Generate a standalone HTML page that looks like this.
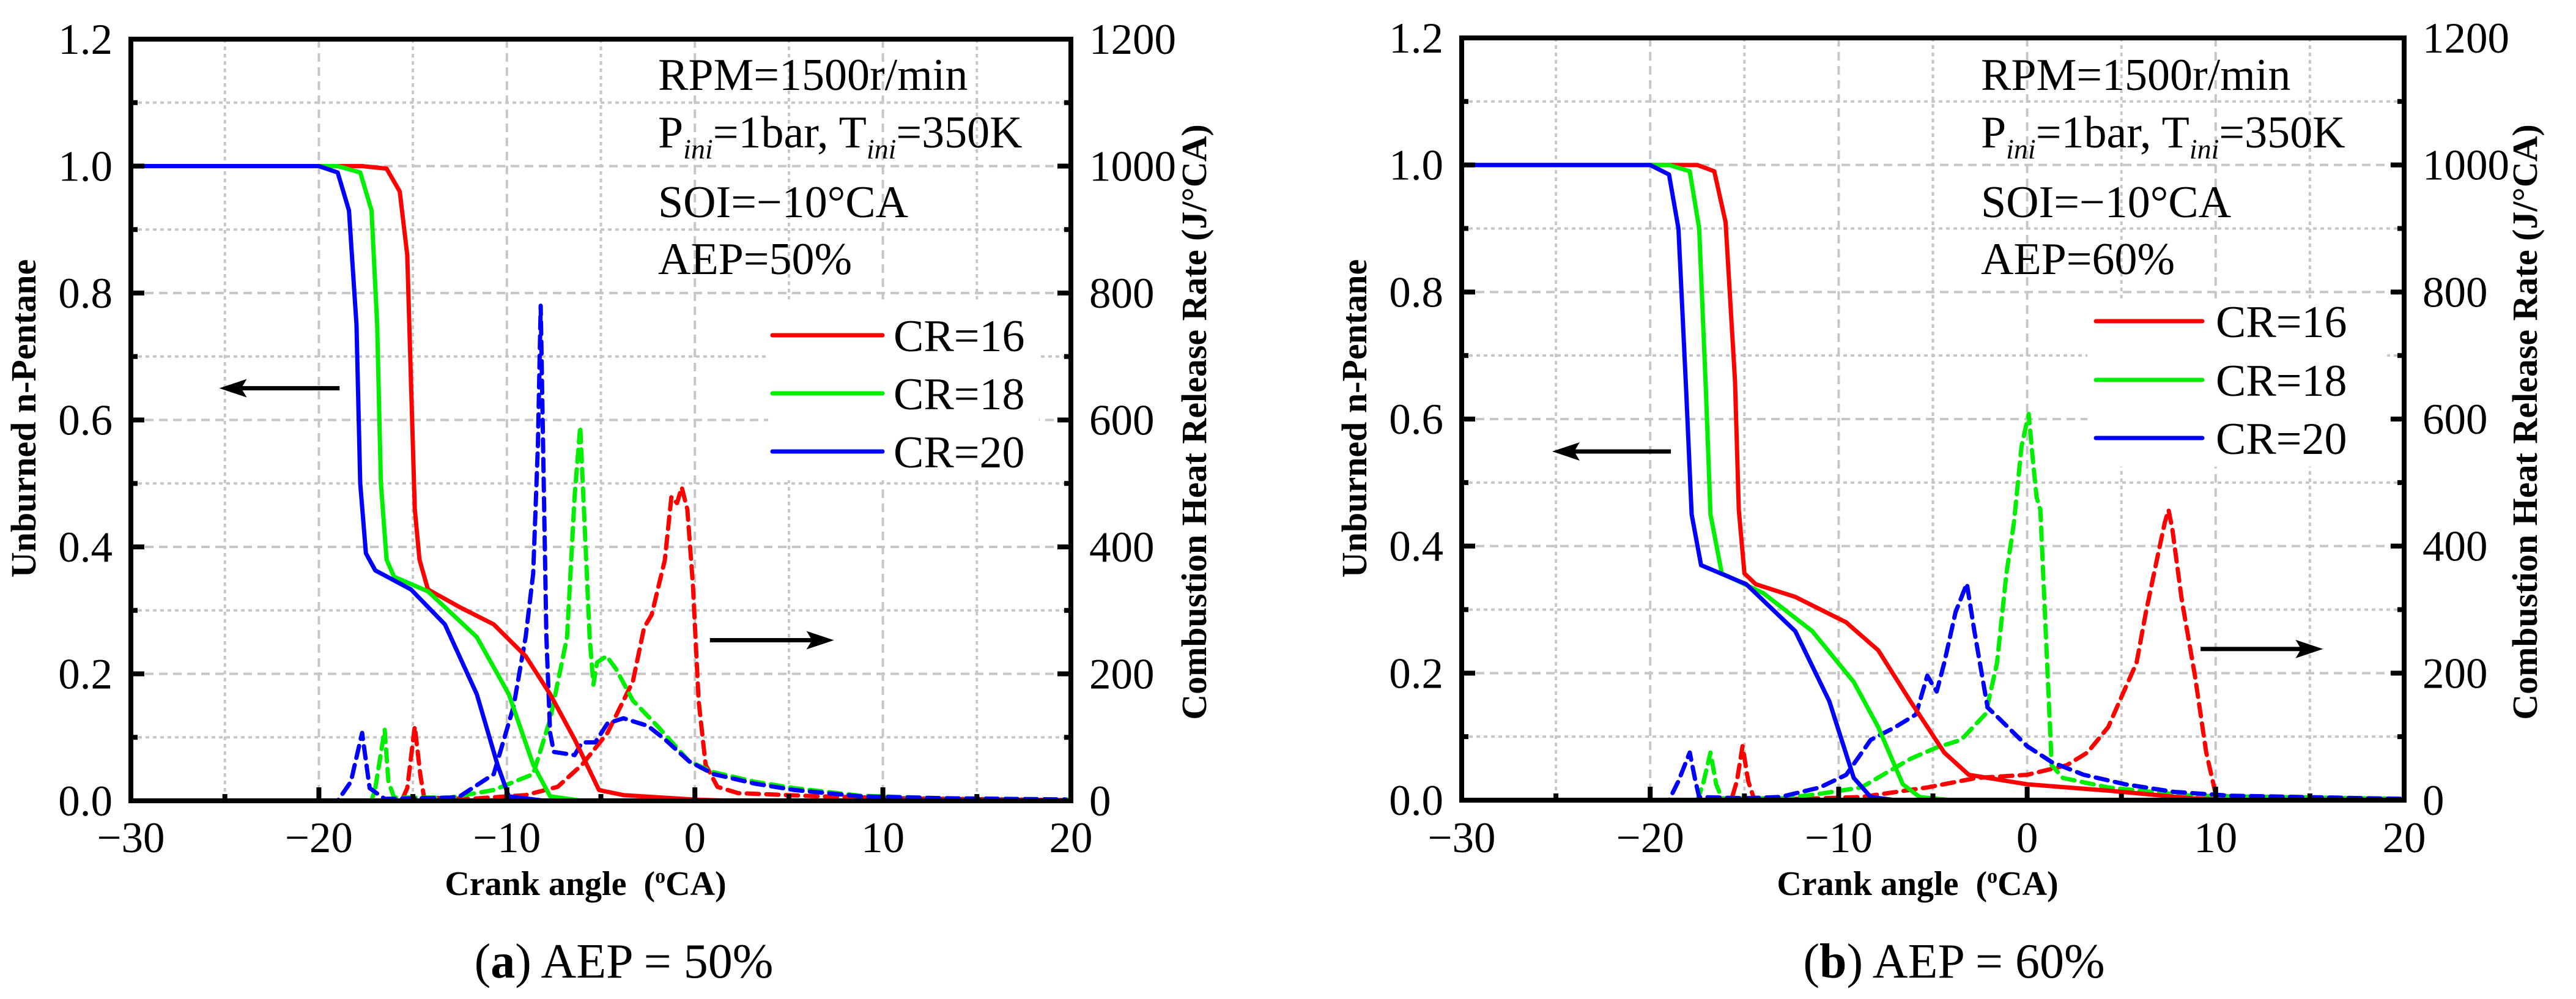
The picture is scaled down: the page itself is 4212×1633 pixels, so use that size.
<!DOCTYPE html>
<html><head><meta charset="utf-8">
<style>
html,body{margin:0;padding:0;background:#fff;}
svg{display:block;font-family:"Liberation Serif","DejaVu Serif",serif;}
svg text{font-family:"Liberation Serif","DejaVu Serif",serif;fill:#000;}
.b{font-weight:bold;}
</style></head>
<body>
<svg id="fig" xmlns="http://www.w3.org/2000/svg" width="4212" height="1633" viewBox="0 0 4212 1633" font-family="Liberation Serif, DejaVu Serif, serif"></svg>
<script>
// ---------- shared axis data ----------
const xTicks = [-30, -20, -10, 0, 10, 20];
const xMinor = [-25, -15, -5, 5, 15];
const yLeftTicks = [0.0, 0.2, 0.4, 0.6, 0.8, 1.0, 1.2];
const yMinor = [0.1, 0.3, 0.5, 0.7, 0.9, 1.1];
const yRightTicks = [0, 200, 400, 600, 800, 1000, 1200];
const seriesNames = ["CR=16", "CR=18", "CR=20"];
const seriesColors = ["#ff0000", "#00ee00", "#0000ff"];

// ---------- panel (a) AEP=50% ----------
const aUnb16 = [[-30,1],[-17.7,1],[-16.4,0.996],[-15.7,0.96],[-15.3,0.86],[-15.1,0.66],[-14.9,0.46],[-14.65,0.38],[-14.2,0.333],[-12.5,0.305],[-10.7,0.278],[-9.0,0.228],[-7.7,0.168],[-6.4,0.097],[-5.1,0.017],[-3.8,0.009],[-0.1,0.002],[2,0],[20,0]];
const aUnb18 = [[-30,1],[-19,1],[-17.8,0.99],[-17.2,0.93],[-16.9,0.75],[-16.7,0.5],[-16.4,0.38],[-16.0,0.353],[-14.2,0.33],[-11.6,0.258],[-9.9,0.168],[-8.6,0.057],[-7.7,0.007],[-6,0],[20,0]];
const aUnb20 = [[-30,1],[-20,1],[-19,0.99],[-18.4,0.93],[-18.0,0.75],[-17.8,0.5],[-17.5,0.39],[-17.0,0.363],[-15.1,0.333],[-13.3,0.278],[-11.6,0.168],[-10.5,0.057],[-9.9,0.007],[-8,0],[20,0]];
const aHrr16 = [[-30,0],[-15.6,0],[-15.3,20],[-14.9,117],[-14.6,40],[-14.4,5],[-12,3],[-9.0,9],[-7.3,22],[-6.0,57],[-4.65,107],[-3.3,188],[-2.7,273],[-2.3,293],[-1.6,379],[-1.25,479],[-0.95,469],[-0.7,494],[-0.4,459],[-0.1,338],[0.2,158],[0.57,57],[1.2,22],[2.3,12],[6.6,7],[11,4],[20,1]];
const aHrr18 = [[-30,0],[-17.2,0],[-17.0,20],[-16.5,112],[-16.3,30],[-16.0,5],[-13,5],[-10.7,17],[-8.6,42],[-7.7,128],[-6.8,258],[-6.4,479],[-6.1,590],[-5.9,459],[-5.6,258],[-5.4,183],[-5.2,218],[-4.7,228],[-4.2,208],[-3.3,158],[-2.0,118],[-0.3,62],[1.0,45],[3.2,30],[5.3,20],[8.8,8],[13,4],[20,2]];
const aHrr20 = [[-30,0],[-19,0],[-18.3,30],[-17.7,107],[-17.3,20],[-16.5,3],[-13,5],[-12.5,7],[-10.7,42],[-9.65,148],[-9.0,258],[-8.6,358],[-8.35,560],[-8.2,780],[-8.05,520],[-7.9,258],[-7.7,107],[-7.5,77],[-6.4,72],[-6.0,92],[-5.3,92],[-4.65,122],[-3.8,130],[-2.5,118],[-1.6,97],[-0.3,62],[1.0,42],[3.2,27],[5.3,17],[8.8,7],[13.2,4],[19.7,2]];

// ---------- panel (b) AEP=60% ----------
const bUnb16 = [[-30,1],[-17.5,1],[-16.6,0.99],[-16.0,0.91],[-15.5,0.66],[-15.3,0.457],[-15.0,0.357],[-14.4,0.34],[-12.3,0.32],[-9.6,0.28],[-7.9,0.236],[-6.2,0.156],[-4.4,0.075],[-3.1,0.04],[0,0.025],[4.3,0.015],[8.7,0.003],[11,0],[20,0]];
const bUnb18 = [[-30,1],[-19,1],[-17.9,0.99],[-17.4,0.9],[-17.05,0.65],[-16.8,0.45],[-16.2,0.357],[-14.0,0.326],[-11.4,0.266],[-9.2,0.186],[-7.9,0.115],[-6.6,0.025],[-5.7,0.005],[-4,0],[20,0]];
const bUnb20 = [[-30,1],[-20,1],[-19.0,0.985],[-18.5,0.9],[-18.1,0.65],[-17.8,0.45],[-17.3,0.37],[-14.9,0.34],[-12.3,0.266],[-10.5,0.156],[-9.2,0.035],[-8.3,0.005],[-7,0],[20,0]];
const bHrr16 = [[-30,0],[-15.7,0],[-15.4,30],[-15.1,85],[-14.8,30],[-14.5,3],[-12,2],[-8.8,5],[-5.3,20],[-2.7,35],[0,40],[2.1,55],[3.2,75],[4.3,115],[5.2,176],[5.8,216],[6.3,296],[6.8,367],[7.3,437],[7.5,457],[7.7,427],[8.2,316],[8.9,196],[9.5,75],[10.0,10],[10.8,5],[20,1]];
const bHrr18 = [[-30,0],[-17.5,0],[-17.2,25],[-16.8,75],[-16.5,25],[-16.2,3],[-13,3],[-11,10],[-8.8,20],[-6.2,65],[-4.8,83],[-3.5,95],[-2.2,136],[-1.6,216],[-1.1,357],[-0.7,437],[-0.3,557],[0.08,608],[0.3,537],[0.5,477],[0.7,457],[1.0,256],[1.3,55],[1.9,35],[4.3,20],[8.7,7],[20,2]];
const bHrr20 = [[-30,0],[-19.0,0],[-18.5,30],[-17.9,75],[-17.6,30],[-17.4,5],[-15,3],[-13.1,5],[-11,20],[-9.6,40],[-8.3,95],[-7.0,115],[-5.9,135],[-5.3,196],[-4.8,171],[-4.4,216],[-3.8,296],[-3.2,341],[-2.8,266],[-2.1,146],[-1.4,126],[0,85],[1.3,60],[3.0,40],[5.2,25],[7.8,13],[10.8,7],[20,2]];

const NS = "http://www.w3.org/2000/svg";
const FONT = '"Liberation Serif", "DejaVu Serif", serif';
const svg = document.getElementById('fig');
function mk(tag, attrs, parent, txt) {
  const e = document.createElementNS(NS, tag);
  for (const k in attrs) e.setAttribute(k, attrs[k]);
  if (tag === 'text') e.setAttribute('font-family', FONT);
  if (txt !== undefined) e.textContent = txt;
  (parent || svg).appendChild(e);
  return e;
}

function drawPanel(cfg) {
  const g = mk('g', {});
  
  
  const X = v => cfg.x0 + (v + 30) / 50 * (cfg.x1 - cfg.x0);
  const Y = v => cfg.y0 - v / 1.2 * (cfg.y0 - cfg.yt);
  const YR = v => Y(v / 1000);
  const grid = mk('g', {stroke: '#c6c6c6', 'stroke-width': 4, fill: 'none'}, g);
  
  
  xTicks.slice(1, -1).forEach(v => mk('line', {x1: X(v), x2: X(v), y1: cfg.yt, y2: cfg.y0, 'stroke-dasharray': '14 9'}, grid));
  xMinor.forEach(v => mk('line', {x1: X(v), x2: X(v), y1: cfg.yt, y2: cfg.y0, 'stroke-dasharray': '6 6'}, grid));
  yLeftTicks.slice(1, -1).forEach(v => mk('line', {x1: cfg.x0, x2: cfg.x1, y1: Y(v), y2: Y(v), 'stroke-dasharray': '14 9'}, grid));
  yMinor.forEach(v => mk('line', {x1: cfg.x0, x2: cfg.x1, y1: Y(v), y2: Y(v), 'stroke-dasharray': '6 6'}, grid));

  const lb = mk('rect', {x: X(cfg.legBox[0]), y: Y(cfg.legBox[3]), width: X(cfg.legBox[1]) - X(cfg.legBox[0]), height: Y(cfg.legBox[2]) - Y(cfg.legBox[3]), fill: '#fff'}, g);
  
  

  const pts = (arr, f) => arr.map(p => X(p[0]).toFixed(1) + ',' + f(p[1]).toFixed(1)).join(' ');
  cfg.hrr.forEach((arr, i) => {
    const l = mk('polyline', {points: pts(arr, YR), fill: 'none', stroke: seriesColors[i], 'stroke-width': 7, 'stroke-dasharray': '20 12', 'stroke-linejoin': 'round', 'stroke-linecap': 'round'}, g);
    
    
  });
  cfg.unb.forEach((arr, i) => {
    const l = mk('polyline', {points: pts(arr, Y), fill: 'none', stroke: seriesColors[i], 'stroke-width': 7, 'stroke-linejoin': 'round', 'stroke-linecap': 'round'}, g);
    
    
  });

  const fr = mk('rect', {x: cfg.x0, y: cfg.yt, width: cfg.x1 - cfg.x0, height: cfg.y0 - cfg.yt, fill: 'none', stroke: '#000', 'stroke-width': 8}, g);
  
  
  const tk = mk('g', {stroke: '#000', 'stroke-width': 8}, g);
  
  
  yLeftTicks.forEach(v => { mk('line', {x1: cfg.x0, x2: cfg.x0 + 22, y1: Y(v), y2: Y(v)}, tk); mk('line', {x1: cfg.x1, x2: cfg.x1 - 22, y1: Y(v), y2: Y(v)}, tk); });
  yMinor.forEach(v => { mk('line', {x1: cfg.x0, x2: cfg.x0 + 11, y1: Y(v), y2: Y(v)}, tk); mk('line', {x1: cfg.x1, x2: cfg.x1 - 11, y1: Y(v), y2: Y(v)}, tk); });
  xTicks.forEach(v => mk('line', {x1: X(v), x2: X(v), y1: cfg.y0, y2: cfg.y0 - 22}, tk));
  xMinor.forEach(v => mk('line', {x1: X(v), x2: X(v), y1: cfg.y0, y2: cfg.y0 - 11}, tk));

  xTicks.forEach(v => {
    const t = mk('text', {x: X(v), y: 1393, 'font-size': 71, 'text-anchor': 'middle'}, g, (v < 0 ? '\u2212' + Math.abs(v) : String(v)));
    
    
  });
  yLeftTicks.forEach(v => {
    const t = mk('text', {x: cfg.x0 - 30, y: Y(v) + 24, 'font-size': 71, 'text-anchor': 'end'}, g, v.toFixed(1));
    
    
  });
  yRightTicks.forEach(v => {
    const t = mk('text', {x: cfg.x1 + 30, y: YR(v) + 24, 'font-size': 71}, g, String(v));
    
    
  });

  const xt = mk('text', {x: (cfg.x0 + cfg.x1) / 2 - 25, y: 1463, 'font-size': 56, 'text-anchor': 'middle', 'font-weight': 'bold'}, g);
  
  
  mk('tspan', {}, xt, 'Crank angle\u00a0 (');
  mk('tspan', {'font-size': 34, dy: -20}, xt, 'o');
  mk('tspan', {dy: 20}, xt, 'CA)');
  const yl = mk('text', {x: 0, y: 0, 'font-size': 58, 'text-anchor': 'middle', 'font-weight': 'bold', transform: `translate(${cfg.ylx},684) rotate(-90)`}, g, 'Unburned n-Pentane');
  
  
  const yr = mk('text', {x: 0, y: 0, 'font-size': 58, 'text-anchor': 'middle', 'font-weight': 'bold', transform: `translate(${cfg.yrx},690) rotate(-90)`}, g, 'Combustion Heat Release Rate (J/\u00b0CA)');
  
  

  const ann = mk('g', {}, g);
  
  
  mk('text', {x: cfg.tx, y: 147, 'font-size': 74}, ann, 'RPM=1500r/min');
  const t2 = mk('text', {x: cfg.tx, y: 241, 'font-size': 74}, ann);
  mk('tspan', {}, t2, 'P');
  mk('tspan', {'font-size': 46, 'font-style': 'italic', dy: 18}, t2, 'ini');
  mk('tspan', {dy: -18}, t2, '=1bar, T');
  mk('tspan', {'font-size': 46, 'font-style': 'italic', dy: 18}, t2, 'ini');
  mk('tspan', {dy: -18}, t2, '=350K');
  mk('text', {x: cfg.tx, y: 355, 'font-size': 74}, ann, 'SOI=\u221210\u00b0CA');
  mk('text', {x: cfg.tx, y: 448, 'font-size': 74}, ann, cfg.aep);

  seriesNames.forEach((n, i) => {
    const e = mk('g', {}, g);
    
    
    mk('line', {x1: cfg.lx1, x2: cfg.lx2, y1: cfg.ly[i], y2: cfg.ly[i], stroke: seriesColors[i], 'stroke-width': 7, 'stroke-linecap': 'round'}, e);
    mk('text', {x: cfg.ltx, y: cfg.ly[i] + 26, 'font-size': 74}, e, n);
  });

  function arrow(xa, xb, yv, name) {
    const a = mk('g', {}, g);
    
    
    const x1 = X(xa), x2 = X(xb), y = Y(yv);
    const d = x2 > x1 ? 1 : -1;
    mk('line', {x1: x1, x2: x2 - d * 30, y1: y, y2: y, stroke: '#000', 'stroke-width': 7}, a);
    mk('polygon', {points: `${x2},${y} ${x2 - d * 45},${y - 15} ${x2 - d * 36},${y} ${x2 - d * 45},${y + 15}`, fill: '#000'}, a);
  }
  arrow(cfg.arL[0], cfg.arL[1], cfg.arL[2], 'left-axis-arrow');
  arrow(cfg.arR[0], cfg.arR[1], cfg.arR[2], 'right-axis-arrow');

  const cap = mk('text', {x: cfg.capx, y: 1598, 'font-size': 80, 'text-anchor': 'middle'}, g);
  
  
  mk('tspan', {}, cap, '(');
  mk('tspan', {'font-weight': 'bold'}, cap, cfg.letter);
  mk('tspan', {}, cap, ') ' + cfg.aep.replace('=', ' = '));
}

drawPanel({id: 'panel-a', x0: 214, x1: 1751, yt: 64, y0: 1309, unb: [aUnb16, aUnb18, aUnb20], hrr: [aHrr16, aHrr18, aHrr20],
  legBox: [3.9, 18.3, 0.505, 0.79], lx1: 1263, lx2: 1443, ly: [548, 643, 738], ltx: 1461, tx: 1076, aep: 'AEP=50%',
  arL: [-18.9, -25.3, 0.65], arR: [0.8, 7.4, 0.253], ylx: 58, yrx: 1972, capx: 1020, letter: 'a'});
drawPanel({id: 'panel-b', x0: 2390, x1: 3931, yt: 62, y0: 1308, unb: [bUnb16, bUnb18, bUnb20], hrr: [bHrr16, bHrr18, bHrr20],
  legBox: [3.2, 19.1, 0.525, 0.79], lx1: 3427, lx2: 3601, ly: [525, 621, 716], ltx: 3623, tx: 3239, aep: 'AEP=60%',
  arL: [-18.9, -25.2, 0.549], arR: [9.2, 15.7, 0.238], ylx: 2234, yrx: 4148, capx: 3195, letter: 'b'});
</script>
</body></html>
